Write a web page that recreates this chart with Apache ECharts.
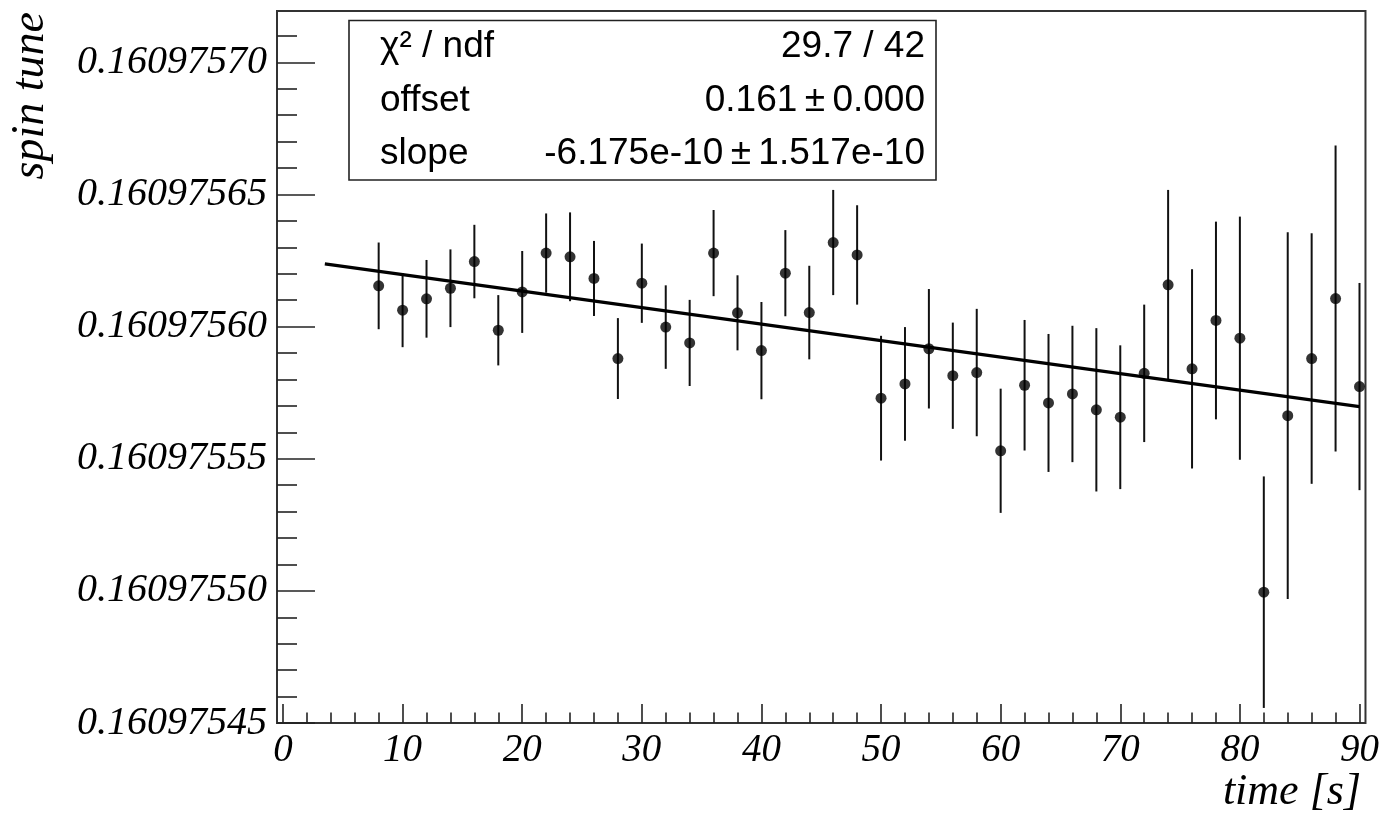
<!DOCTYPE html>
<html>
<head>
<meta charset="utf-8">
<script src="https://cdn.jsdelivr.net/npm/echarts@6/dist/echarts.min.js"></script>
<style>
html,body{margin:0;padding:0;background:#fff;}
#chart{width:1382px;height:814px;}
</style>
</head>
<body>
<div id="chart"></div>
<script>
// ---- data ----
const times = [8,10,12,14,16,18,20,22,24,26,28,30,32,34,36,38,40,42,44,46,48,50,52,54,56,58,60,62,64,66,68,70,72,74,76,78,80,82,84,86,88,90];
const spinTune = [
  0.1609756154, 0.1609756062, 0.1609756105, 0.1609756145, 0.1609756246,
  0.1609755986, 0.1609756131, 0.1609756278, 0.1609756264, 0.1609756182,
  0.1609755879, 0.1609756164, 0.1609755998, 0.1609755938, 0.1609756278,
  0.1609756052, 0.1609755909, 0.1609756202, 0.1609756053, 0.1609756318,
  0.1609756271, 0.1609755729, 0.1609755783, 0.1609755916, 0.1609755814,
  0.1609755826, 0.1609755530, 0.1609755778, 0.1609755711, 0.1609755745,
  0.1609755685, 0.1609755657, 0.1609755823, 0.1609756158, 0.1609755840,
  0.1609756023, 0.1609755956, 0.1609754995, 0.1609755663, 0.1609755879,
  0.1609756106, 0.1609755773
];
const spinTuneErr = [
  1.64e-8, 1.40e-8, 1.47e-8, 1.47e-8, 1.39e-8,
  1.33e-8, 1.55e-8, 1.50e-8, 1.68e-8, 1.42e-8,
  1.53e-8, 1.50e-8, 1.58e-8, 1.63e-8, 1.63e-8,
  1.42e-8, 1.84e-8, 1.63e-8, 1.77e-8, 1.99e-8,
  1.88e-8, 2.36e-8, 2.15e-8, 2.26e-8, 2.01e-8,
  2.41e-8, 2.35e-8, 2.47e-8, 2.61e-8, 2.58e-8,
  3.09e-8, 2.72e-8, 2.60e-8, 3.59e-8, 3.77e-8,
  3.74e-8, 4.60e-8, 4.38e-8, 6.94e-8, 4.74e-8,
  5.79e-8, 3.92e-8
];
const fitTime = [3.5, 90];
const fitTune = [0.1609756237, 0.1609755697];

const xMajorTicks = [0,10,20,30,40,50,60,70,80,90];
const xMinorTicks = [2,4,6,8,12,14,16,18,22,24,26,28,32,34,36,38,42,44,46,48,52,54,56,58,62,64,66,68,72,74,76,78,82,84,86,88];
const yMajorTicks = [0.16097545,0.16097550,0.16097555,0.16097560,0.16097565,0.16097570];
const yMinorTicks = [0.16097546,0.16097547,0.16097548,0.16097549,
                     0.16097551,0.16097552,0.16097553,0.16097554,
                     0.16097556,0.16097557,0.16097558,0.16097559,
                     0.16097561,0.16097562,0.16097563,0.16097564,
                     0.16097566,0.16097567,0.16097568,0.16097569,
                     0.16097571];
const xRange = [-0.5, 90.5];
const yRange = [0.16097545, 0.1609757194];

const xTitle = 'time [s]';
const yTitle = 'spin tune';
const statNames = ['χ² / ndf', 'offset', 'slope'];
const statValues = ['29.7 / 42', '0.161\u2009±\u20090.000', '-6.175e-10\u2009±\u20091.517e-10'];

// ---- chart ----
const chart = echarts.init(document.getElementById('chart'), null, {renderer: 'canvas'});

const serif = 'Liberation Serif';
const sans = 'Liberation Sans';

const pts = times.map((t, i) => [t, spinTune[i]]);
const errData = times.map((t, i) => [t, spinTune[i], spinTuneErr[i]]);
const fitData = fitTime.map((t, i) => [t, fitTune[i]]);

const statGraphics = [];
statGraphics.push({
  type: 'rect', shape: {x: 349, y: 20.5, width: 587, height: 159.5},
  style: {fill: '#fff', stroke: '#222', lineWidth: 1.6}, z: 100
});
const rowY = [46.7, 100.7, 153.3];
statNames.forEach((n, i) => {
  statGraphics.push({type: 'text', x: 380, y: rowY[i], z: 101,
    style: {text: n, fontFamily: sans, fontSize: 37, fill: '#000', align: 'left', verticalAlign: 'middle'}});
  statGraphics.push({type: 'text', x: 925, y: rowY[i], z: 101,
    style: {text: statValues[i], fontFamily: sans, fontSize: 37, fill: '#000', align: 'right', verticalAlign: 'middle'}});
});

const tickStyle = {color: '#222', width: 1.6};

const option = {
  animation: false,
  backgroundColor: '#fff',
  grid: {left: 277, right: 16, top: 11, bottom: 91, show: true, borderColor: '#333', borderWidth: 2, backgroundColor: 'transparent'},
  xAxis: [
    {type: 'value', min: xRange[0], max: xRange[1], position: 'bottom',
     axisLine: {show: false, onZero: false}, splitLine: {show: false},
     axisTick: {show: true, inside: true, length: 19, customValues: xMajorTicks, lineStyle: tickStyle},
     axisLabel: {show: true, customValues: xMajorTicks, margin: 8,
                 fontFamily: serif, fontStyle: 'italic', fontSize: 39, color: '#000'}},
    {type: 'value', min: xRange[0], max: xRange[1], position: 'bottom',
     axisLine: {show: false, onZero: false}, splitLine: {show: false}, axisLabel: {show: false},
     axisTick: {show: true, inside: true, length: 10.5, customValues: xMinorTicks, lineStyle: tickStyle}}
  ],
  yAxis: [
    {type: 'value', min: yRange[0], max: yRange[1], position: 'left', scale: true,
     axisLine: {show: false, onZero: false}, splitLine: {show: false},
     axisTick: {show: true, inside: true, length: 38, customValues: yMajorTicks, lineStyle: tickStyle},
     axisLabel: {show: true, customValues: yMajorTicks, margin: 10, formatter: v => Number(v).toFixed(8),
                 fontFamily: serif, fontStyle: 'italic', fontSize: 40, color: '#000'}},
    {type: 'value', min: yRange[0], max: yRange[1], position: 'left', scale: true,
     axisLine: {show: false, onZero: false}, splitLine: {show: false}, axisLabel: {show: false},
     axisTick: {show: true, inside: true, length: 20, customValues: yMinorTicks, lineStyle: tickStyle}}
  ],
  graphic: [
    {type: 'text', x: 1361, y: 770, z: 50,
     style: {text: xTitle, fontFamily: serif, fontStyle: 'italic', fontSize: 44, fill: '#000', align: 'right', verticalAlign: 'top'}},
    {type: 'text', x: 31, y: 12, rotation: Math.PI / 2, z: 50,
     style: {text: yTitle, fontFamily: serif, fontStyle: 'italic', fontSize: 46, fill: '#000', align: 'right', verticalAlign: 'middle'}},
    ...statGraphics
  ],
  series: [
    {
      type: 'custom', name: 'errors', xAxisIndex: 0, yAxisIndex: 0,
      data: errData,
      encode: {x: 0, y: 1},
      renderItem: function (params, api) {
        const x = api.value(0), y = api.value(1), e = api.value(2);
        const p1 = api.coord([x, y - e]);
        const p2 = api.coord([x, y + e]);
        return {type: 'line', shape: {x1: p1[0], y1: p1[1], x2: p2[0], y2: p2[1]},
                style: {stroke: '#111', lineWidth: 2}};
      },
      z: 2
    },
    {
      type: 'line', name: 'fit', xAxisIndex: 0, yAxisIndex: 0,
      data: fitData, showSymbol: false, symbol: 'none',
      lineStyle: {color: '#000', width: 3.2}, z: 3
    },
    {
      type: 'scatter', name: 'spin tune', xAxisIndex: 0, yAxisIndex: 0,
      data: pts, symbol: 'circle', symbolSize: 11,
      itemStyle: {color: '#000'}, z: 4
    }
  ]
};
chart.setOption(option);
</script>
</body>
</html>
